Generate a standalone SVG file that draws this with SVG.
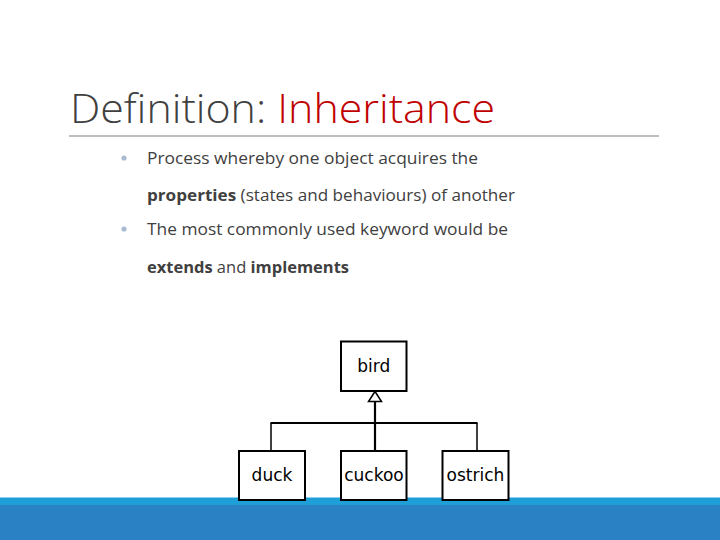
<svg xmlns="http://www.w3.org/2000/svg" width="720" height="540" viewBox="0 0 720 540">
<style>
.title{font-family:"Open Sans","Liberation Sans",sans-serif;font-size:40px;font-weight:300}
.body{font-family:"Open Sans","Liberation Sans",sans-serif;font-size:15.5px;fill:#404040}
.b{font-weight:bold}
.box{fill:#fff;stroke:#000;stroke-width:2}
.lbl{font-family:"DejaVu Sans",sans-serif;font-size:17px;fill:#000;text-anchor:middle}
.conn{stroke:#000;fill:none}
</style>
<rect width="720" height="540" fill="#fff"/>
<rect x="0" y="497.5" width="720" height="8" fill="#1f9fd8"/>
<rect x="0" y="505" width="720" height="35" fill="#2a81c3"/>
<text class="title" x="70" y="123" textLength="425" lengthAdjust="spacingAndGlyphs"><tspan fill="#404040">Definition: </tspan><tspan fill="#c00000">Inheritance</tspan></text>
<line x1="69" y1="136" x2="659" y2="136" stroke="#808080" stroke-width="1.2"/>
<circle cx="124" cy="158" r="2.6" fill="#a9bcd2"/>
<circle cx="124" cy="229" r="2.6" fill="#a9bcd2"/>
<text class="body" x="147" y="164" textLength="331" lengthAdjust="spacingAndGlyphs">Process whereby one object acquires the</text>
<text class="body" x="147" y="201" textLength="368" lengthAdjust="spacingAndGlyphs"><tspan class="b">properties</tspan> (states and behaviours) of another</text>
<text class="body" x="147" y="235" textLength="361" lengthAdjust="spacingAndGlyphs">The most commonly used keyword would be</text>
<text class="body" x="147" y="273" textLength="202" lengthAdjust="spacingAndGlyphs"><tspan class="b">extends</tspan> and <tspan class="b">implements</tspan></text>
<g id="connectors">
<line class="conn" x1="375" y1="401.5" x2="375" y2="451" stroke-width="2.2"/>
<line class="conn" x1="270.5" y1="423" x2="477.5" y2="423" stroke-width="1.8"/>
<line class="conn" x1="271" y1="423" x2="271" y2="451" stroke-width="1.5"/>
<line class="conn" x1="477" y1="423" x2="477" y2="451" stroke-width="1.5"/>
<polygon points="375,391.5 368.5,401.5 381.5,401.5" fill="#fff" stroke="#000" stroke-width="1.5"/>
</g>
<g id="bird"><rect class="box" x="341" y="341.5" width="65.5" height="49.5"/><text class="lbl" x="373.7" y="372">bird</text></g>
<g id="duck"><rect class="box" x="239" y="451" width="66" height="49"/><text class="lbl" x="272" y="481">duck</text></g>
<g id="cuckoo"><rect class="box" x="341" y="451" width="65.5" height="49"/><text class="lbl" x="374" y="481">cuckoo</text></g>
<g id="ostrich"><rect class="box" x="442.5" y="451" width="66" height="49"/><text class="lbl" x="475.5" y="481">ostrich</text></g>
</svg>
